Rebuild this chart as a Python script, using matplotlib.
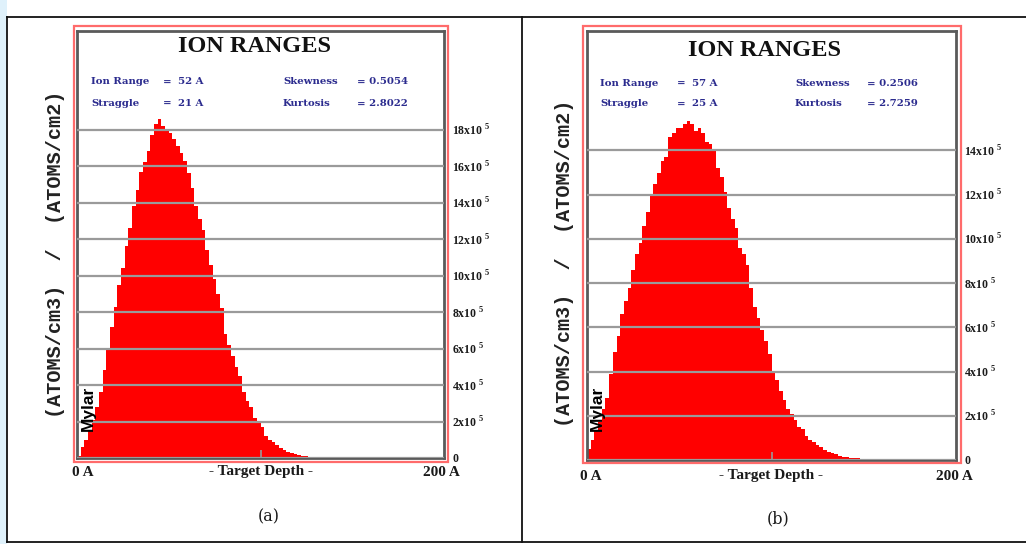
import matplotlib
matplotlib.use("Agg")
import matplotlib.pyplot as plt
import numpy as np
from matplotlib.patches import Rectangle
from matplotlib.lines import Line2D

plt.rcParams['mathtext.fontset'] = 'custom'
plt.rcParams['mathtext.rm'] = 'Liberation Serif'
plt.rcParams['mathtext.bf'] = 'Liberation Serif:bold'

W, H = 1026, 544

# ion range histograms, 2 A bins starting at 0 A, values in units of 1e5 atoms/cm3 / atoms/cm2
bin_width = 2
counts_a = [0.1, 0.6, 1.0, 1.5, 2.1, 2.8, 3.6, 4.8, 6.0, 7.2,
            8.3, 9.5, 10.4, 11.6, 12.6, 13.8, 14.7, 15.7, 16.2, 16.8,
            17.7, 18.3, 18.6, 18.2, 18.0, 17.8, 17.5, 17.1, 16.7, 16.3,
            15.6, 14.8, 13.8, 13.1, 12.5, 11.4, 10.6, 9.8, 9.0, 8.2,
            6.8, 6.2, 5.6, 5.0, 4.5, 3.6, 3.1, 2.8, 2.2, 1.9,
            1.7, 1.2, 1.0, 0.85, 0.7, 0.55, 0.45, 0.35, 0.28, 0.2,
            0.16, 0.12, 0.1, 0.08, 0.07, 0.07, 0.07]
counts_b = [0.5, 0.9, 1.3, 1.7, 2.3, 2.8, 3.9, 4.9, 5.6, 6.6,
            7.2, 7.8, 8.6, 9.3, 9.8, 10.6, 11.2, 12.0, 12.5, 13.0,
            13.5, 13.7, 14.6, 14.8, 15.0, 15.0, 15.2, 15.35, 15.2, 14.9,
            15.0, 14.8, 14.4, 14.3, 14.0, 13.2, 12.8, 12.1, 11.4, 10.9,
            10.5, 9.6, 9.3, 8.8, 7.8, 6.9, 6.4, 5.9, 5.4, 4.8,
            4.0, 3.6, 3.1, 2.7, 2.3, 2.1, 1.8, 1.5, 1.4, 1.1,
            0.9, 0.8, 0.7, 0.6, 0.45, 0.35, 0.3, 0.25, 0.2, 0.15,
            0.12, 0.1, 0.1, 0.08]

ticks_a = [0, 2, 4, 6, 8, 10, 12, 14, 16, 18]
ticks_b = [0, 2, 4, 6, 8, 10, 12, 14]
ymax_a = 23.4
ymax_b = 19.4

stats_a = [("Ion Range", "=", "52 A", "Skewness", "= 0.5054"),
           ("Straggle", "=", "21 A", "Kurtosis", "= 2.8022")]
stats_b = [("Ion Range", "=", "57 A", "Skewness", "= 0.2506"),
           ("Straggle", "=", "25 A", "Kurtosis", "= 2.7259")]

navy = '#2b2b8e'
grid_gray = '#9a9a9a'
frame_gray = '#5a5a5a'
red_box = '#ff6b6b'


def fx(x):
    return x / W


def fy(y):
    return 1 - y / H


def tick_label(v):
    return '0' if v == 0 else r'%dx10 $^{\mathbf{5}}$' % v


def draw_panel(fig, ax_px, box_px, counts, ticks, ymax, stats, cols, rows_y, title_px,
               ylab_px, mylar_px, xl_px, cap, cap_px):
    l, t, r, b = ax_px
    ax = fig.add_axes([fx(l), fy(b), fx(r - l), (b - t) / H])
    edges = np.arange(len(counts) + 1) * bin_width
    ax.stairs(counts, edges, fill=True, color='#ff0000', zorder=2)
    ax.set_xlim(0, 200)
    ax.set_ylim(0, ymax)
    ax.set_yticks(ticks)
    ax.set_yticklabels([tick_label(v) for v in ticks])
    ax.yaxis.tick_right()
    ax.tick_params(axis='y', length=0, pad=6, labelsize=8.5)
    for lab in ax.get_yticklabels():
        lab.set_fontfamily('Liberation Serif')
        lab.set_fontweight('bold')
        lab.set_color('#1a1a1a')
    ax.set_xticks([100])
    ax.set_xticklabels([])
    ax.tick_params(axis='x', direction='in', length=6, color=grid_gray, width=1.2)
    ax.grid(axis='y', color=grid_gray, lw=1.6, zorder=3)
    ax.set_axisbelow(False)
    for s in ax.spines.values():
        s.set_color(frame_gray)
        s.set_linewidth(2)

    # red outer box
    bl, bt, br, bb = box_px
    fig.add_artist(Rectangle((fx(bl), fy(bb)), fx(br - bl), (bb - bt) / H,
                             transform=fig.transFigure, fill=False,
                             ec=red_box, lw=1.6))

    fig.text(fx(title_px[0]), fy(title_px[1]), 'ION RANGES', ha='center', va='center',
             family='Liberation Serif', weight='bold', fontsize=17.5, color='#111111')

    for row, yy in zip(stats, rows_y):
        for txt, xx in zip(row, cols):
            fig.text(fx(xx), fy(yy), txt, ha='left', va='center',
                     family='DejaVu Serif', weight='bold', fontsize=7.3, color=navy)

    fig.text(fx(ylab_px[0]), fy(ylab_px[1]), '(ATOMS/cm3)  /  (ATOMS/cm2)',
             rotation=90, ha='center', va='center', family='Liberation Mono',
             weight='bold', fontsize=14.5, color='#222222')
    fig.text(fx(mylar_px[0]), fy(mylar_px[1]), 'Mylar', rotation=90, ha='center',
             va='center', family='Liberation Sans', weight='bold', fontsize=12.5,
             color='black')

    x0, xc, x2, yl = xl_px
    fig.text(fx(x0), fy(yl), '0 A', ha='left', va='center', family='Liberation Serif',
             weight='bold', fontsize=11, color='#1a1a1a')
    fig.text(fx(xc), fy(yl), '- Target Depth -', ha='center', va='center',
             family='Liberation Serif', weight='bold', fontsize=11, color='#1a1a1a')
    fig.text(fx(x2), fy(yl), '200 A', ha='right', va='center', family='Liberation Serif',
             weight='bold', fontsize=11, color='#1a1a1a')
    fig.text(fx(cap_px[0]), fy(cap_px[1]), cap, ha='center', va='center',
             family='DejaVu Serif', fontsize=11.5, color='#1a1a1a')
    return ax


fig = plt.figure(figsize=(W / 100, H / 100), dpi=100)
fig.patch.set_facecolor('white')

# page decoration: light strip on left and the table lines
fig.add_artist(Rectangle((0, 0), fx(7), 1, transform=fig.transFigure,
                         color='#dff1fb', lw=0))
for (xa, ya, xb, yb) in [(7, 17, W, 17), (7, 17, 7, 542), (7, 542, W, 542),
                         (522, 17, 522, 542)]:
    fig.add_artist(Line2D([fx(xa), fx(xb)], [fy(ya), fy(yb)], transform=fig.transFigure,
                          color='#111111', lw=1.3))

draw_panel(fig, (77, 31, 444, 458), (74, 26, 448, 462), counts_a, ticks_a, ymax_a,
           stats_a, (91, 163, 178, 283, 357), (82, 103), (254, 47), (56, 254), (88, 408),
           (72, 261, 460, 472), '(a)', (269, 517))
draw_panel(fig, (587, 31, 956, 460), (583, 26, 961, 463), counts_b, ticks_b, ymax_b,
           stats_b, (600, 677, 692, 795, 867), (83, 104), (765, 50), (564, 263), (597, 408),
           (580, 771, 973, 476), '(b)', (778, 519))

fig.savefig('out.png', dpi=100)
